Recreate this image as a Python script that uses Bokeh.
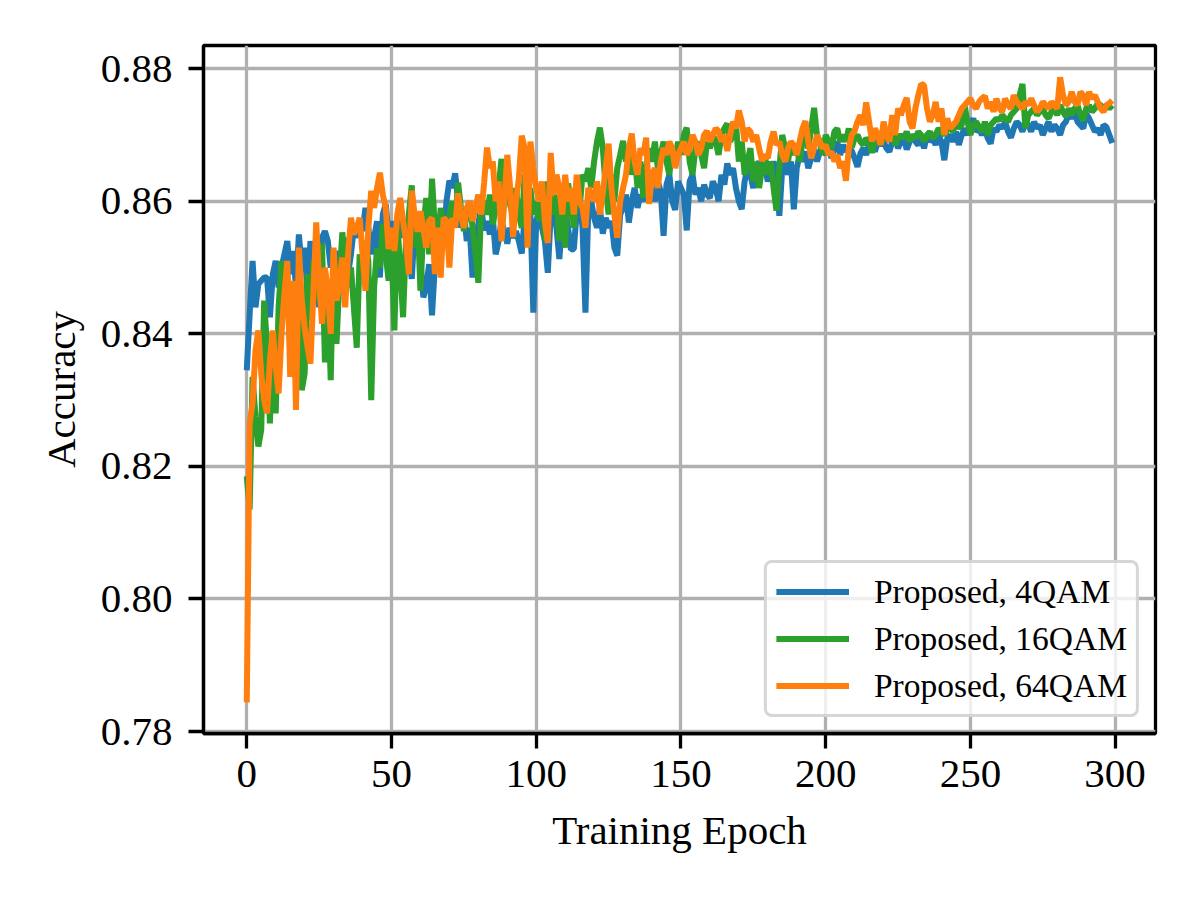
from bokeh.plotting import figure
from bokeh.models import Range1d, FixedTicker, PrintfTickFormatter, Legend
from bokeh.embed import file_html
from bokeh.resources import INLINE

epochs = list(range(300))

acc_4qam = [
    0.8345, 0.8430, 0.8510, 0.8440, 0.8475, 0.8480, 0.8485, 0.8485, 0.8425, 0.8490,
    0.8510, 0.8470, 0.8500, 0.8520, 0.8540, 0.8490, 0.8525, 0.8470, 0.8550, 0.8500,
    0.8530, 0.8455, 0.8540, 0.8480, 0.8500, 0.8440, 0.8545, 0.8555, 0.8540, 0.8500,
    0.8515, 0.8490, 0.8525, 0.8505, 0.8545, 0.8490, 0.8520, 0.8560, 0.8545, 0.8570,
    0.8555, 0.8590, 0.8560, 0.8520, 0.8545, 0.8570, 0.8485, 0.8580, 0.8596, 0.8550,
    0.8570, 0.8530, 0.8555, 0.8590, 0.8545, 0.8560, 0.8520, 0.8483, 0.8560, 0.8550,
    0.8510, 0.8455, 0.8470, 0.8505, 0.8428, 0.8505, 0.8560, 0.8575, 0.8540, 0.8600,
    0.8631, 0.8620, 0.8642, 0.8600, 0.8560, 0.8585, 0.8540, 0.8560, 0.8485, 0.8530,
    0.8566, 0.8590, 0.8556, 0.8570, 0.8550, 0.8575, 0.8520, 0.8540, 0.8570, 0.8555,
    0.8536, 0.8560, 0.8545, 0.8555, 0.8540, 0.8521, 0.8575, 0.8565, 0.8580, 0.8432,
    0.8570, 0.8585, 0.8560, 0.8540, 0.8492, 0.8580, 0.8590, 0.8560, 0.8513, 0.8575,
    0.8590, 0.8560, 0.8527, 0.8528, 0.8585, 0.8600, 0.8560, 0.8432, 0.8590, 0.8600,
    0.8575, 0.8560, 0.8590, 0.8551, 0.8575, 0.8560, 0.8570, 0.8530, 0.8518, 0.8580,
    0.8590, 0.8610, 0.8568, 0.8600, 0.8620, 0.8590, 0.8610, 0.8600, 0.8625, 0.8605,
    0.8620, 0.8600, 0.8630, 0.8615, 0.8548, 0.8625, 0.8640, 0.8600, 0.8587, 0.8630,
    0.8620, 0.8610, 0.8556, 0.8630, 0.8640, 0.8610, 0.8620, 0.8600, 0.8625, 0.8610,
    0.8605, 0.8630, 0.8620, 0.8600, 0.8640, 0.8625, 0.8657, 0.8640, 0.8650, 0.8620,
    0.8600, 0.8588, 0.8630, 0.8650, 0.8640, 0.8620, 0.8650, 0.8660, 0.8640, 0.8655,
    0.8630, 0.8645, 0.8660, 0.8640, 0.8578, 0.8650, 0.8670, 0.8640, 0.8660, 0.8588,
    0.8650, 0.8670, 0.8660, 0.8675, 0.8650, 0.8665, 0.8680, 0.8660, 0.8675, 0.8680,
    0.8670, 0.8685, 0.8665, 0.8680, 0.8690, 0.8670, 0.8685, 0.8675, 0.8680, 0.8676,
    0.8665, 0.8652, 0.8672, 0.8680, 0.8670, 0.8685, 0.8690, 0.8675, 0.8690, 0.8685,
    0.8690, 0.8680, 0.8675, 0.8690, 0.8695, 0.8680, 0.8690, 0.8695, 0.8678, 0.8690,
    0.8700, 0.8690, 0.8685, 0.8695, 0.8680, 0.8700, 0.8690, 0.8695, 0.8685, 0.8700,
    0.8690, 0.8662, 0.8695, 0.8700, 0.8690, 0.8705, 0.8685, 0.8700, 0.8710, 0.8700,
    0.8715, 0.8725, 0.8705, 0.8710, 0.8700, 0.8710, 0.8695, 0.8687, 0.8710, 0.8705,
    0.8715, 0.8710, 0.8720, 0.8705, 0.8696, 0.8710, 0.8720, 0.8715, 0.8705, 0.8720,
    0.8715, 0.8705, 0.8720, 0.8710, 0.8715, 0.8700, 0.8710, 0.8720, 0.8705, 0.8715,
    0.8710, 0.8700, 0.8715, 0.8720, 0.8732, 0.8725, 0.8735, 0.8720, 0.8715, 0.8710,
    0.8732, 0.8725, 0.8715, 0.8705, 0.8710, 0.8700, 0.8715, 0.8712, 0.8700, 0.8688,
]

acc_16qam = [
    0.8185, 0.8135, 0.8335, 0.8275, 0.8230, 0.8255, 0.8450, 0.8380, 0.8265, 0.8400,
    0.8280, 0.8440, 0.8510, 0.8445, 0.8490, 0.8380, 0.8470, 0.8360, 0.8450, 0.8315,
    0.8340, 0.8490, 0.8420, 0.8510, 0.8450, 0.8480, 0.8536, 0.8357, 0.8470, 0.8330,
    0.8525, 0.8385, 0.8480, 0.8553, 0.8510, 0.8470, 0.8500, 0.8440, 0.8379, 0.8520,
    0.8490, 0.8540, 0.8510, 0.8300, 0.8470, 0.8529, 0.8500, 0.8566, 0.8520, 0.8480,
    0.8530, 0.8405, 0.8570, 0.8500, 0.8425, 0.8540, 0.8580, 0.8624, 0.8530, 0.8580,
    0.8465, 0.8560, 0.8605, 0.8520, 0.8634, 0.8560, 0.8530, 0.8590, 0.8560, 0.8545,
    0.8580, 0.8600, 0.8560, 0.8628, 0.8590, 0.8555, 0.8580, 0.8600, 0.8560, 0.8520,
    0.8477, 0.8590, 0.8600, 0.8580, 0.8610, 0.8565, 0.8590, 0.8620, 0.8664, 0.8590,
    0.8656, 0.8600, 0.8570, 0.8620, 0.8580, 0.8560, 0.8640, 0.8600, 0.8620, 0.8580,
    0.8600, 0.8570, 0.8620, 0.8541, 0.8630, 0.8600, 0.8580, 0.8610, 0.8540, 0.8590,
    0.8530, 0.8627, 0.8600, 0.8560, 0.8620, 0.8590, 0.8640, 0.8630, 0.8650, 0.8620,
    0.8660, 0.8690, 0.8711, 0.8680, 0.8620, 0.8580, 0.8640, 0.8600, 0.8650, 0.8670,
    0.8691, 0.8660, 0.8680, 0.8640, 0.8670, 0.8620, 0.8660, 0.8605, 0.8650, 0.8680,
    0.8660, 0.8690, 0.8650, 0.8670, 0.8690, 0.8660, 0.8640, 0.8680, 0.8660, 0.8690,
    0.8670, 0.8700, 0.8711, 0.8660, 0.8640, 0.8680, 0.8690, 0.8670, 0.8650, 0.8690,
    0.8680, 0.8700, 0.8690, 0.8670, 0.8700, 0.8710, 0.8717, 0.8690, 0.8700, 0.8717,
    0.8660, 0.8690, 0.8640, 0.8660, 0.8680, 0.8630, 0.8660, 0.8620, 0.8650, 0.8670,
    0.8640, 0.8660, 0.8620, 0.8586, 0.8650, 0.8700, 0.8680, 0.8660, 0.8690, 0.8670,
    0.8680, 0.8660, 0.8690, 0.8700, 0.8680, 0.8710, 0.8741, 0.8700, 0.8690, 0.8670,
    0.8700, 0.8690, 0.8680, 0.8705, 0.8710, 0.8690, 0.8700, 0.8690, 0.8710, 0.8681,
    0.8695, 0.8700, 0.8690, 0.8685, 0.8695, 0.8690, 0.8673, 0.8690, 0.8700, 0.8695,
    0.8705, 0.8690, 0.8700, 0.8710, 0.8685, 0.8695, 0.8700, 0.8695, 0.8705, 0.8690,
    0.8700, 0.8695, 0.8705, 0.8700, 0.8690, 0.8700, 0.8705, 0.8695, 0.8700, 0.8710,
    0.8705, 0.8700, 0.8709, 0.8710, 0.8705, 0.8720, 0.8710, 0.8715, 0.8744, 0.8720,
    0.8700, 0.8715, 0.8720, 0.8712, 0.8705, 0.8720, 0.8700, 0.8715, 0.8720, 0.8725,
    0.8722, 0.8730, 0.8725, 0.8720, 0.8730, 0.8735, 0.8740, 0.8760, 0.8777, 0.8710,
    0.8730, 0.8735, 0.8740, 0.8730, 0.8735, 0.8740, 0.8730, 0.8725, 0.8735, 0.8740,
    0.8730, 0.8745, 0.8735, 0.8728, 0.8740, 0.8730, 0.8740, 0.8745, 0.8730, 0.8722,
    0.8740, 0.8745, 0.8735, 0.8740, 0.8748, 0.8745, 0.8740, 0.8745, 0.8740, 0.8745,
]

acc_64qam = [
    0.7844, 0.8265, 0.8295, 0.8375, 0.8405, 0.8340, 0.8300, 0.8280, 0.8360, 0.8405,
    0.8350, 0.8310, 0.8400, 0.8460, 0.8510, 0.8335, 0.8480, 0.8285, 0.8530, 0.8450,
    0.8410, 0.8380, 0.8355, 0.8460, 0.8568, 0.8480, 0.8415, 0.8500, 0.8465, 0.8400,
    0.8530, 0.8450, 0.8475, 0.8515, 0.8440, 0.8520, 0.8575, 0.8550, 0.8560, 0.8575,
    0.8520, 0.8465, 0.8560, 0.8616, 0.8590, 0.8620, 0.8643, 0.8610, 0.8590, 0.8528,
    0.8560, 0.8525, 0.8580, 0.8605, 0.8570, 0.8540, 0.8490, 0.8616, 0.8580, 0.8554,
    0.8585, 0.8560, 0.8530, 0.8570, 0.8575, 0.8490, 0.8560, 0.8485, 0.8575, 0.8570,
    0.8500, 0.8575, 0.8560, 0.8612, 0.8580, 0.8560, 0.8590, 0.8600, 0.8570, 0.8590,
    0.8610, 0.8580, 0.8628, 0.8681, 0.8650, 0.8660, 0.8600, 0.8630, 0.8540, 0.8600,
    0.8670, 0.8620, 0.8546, 0.8600, 0.8634, 0.8699, 0.8680, 0.8530, 0.8690, 0.8650,
    0.8620, 0.8600, 0.8630, 0.8570, 0.8537, 0.8673, 0.8610, 0.8640, 0.8620, 0.8580,
    0.8640, 0.8600, 0.8620, 0.8580, 0.8640, 0.8600, 0.8590, 0.8560, 0.8620, 0.8612,
    0.8600, 0.8630, 0.8580, 0.8612, 0.8650, 0.8687, 0.8620, 0.8580, 0.8545, 0.8600,
    0.8620, 0.8640, 0.8680, 0.8702, 0.8660, 0.8640, 0.8680, 0.8670, 0.8696, 0.8596,
    0.8640, 0.8650, 0.8620, 0.8660, 0.8680, 0.8670, 0.8690, 0.8680, 0.8650, 0.8670,
    0.8680, 0.8690, 0.8670, 0.8680, 0.8700, 0.8690, 0.8670, 0.8680, 0.8700, 0.8706,
    0.8690, 0.8700, 0.8710, 0.8706, 0.8690, 0.8700, 0.8676, 0.8700, 0.8720, 0.8710,
    0.8737, 0.8720, 0.8690, 0.8710, 0.8705, 0.8690, 0.8700, 0.8680, 0.8661, 0.8670,
    0.8665, 0.8690, 0.8705, 0.8685, 0.8690, 0.8670, 0.8660, 0.8680, 0.8690, 0.8685,
    0.8670, 0.8690, 0.8710, 0.8721, 0.8690, 0.8665, 0.8680, 0.8700, 0.8690, 0.8680,
    0.8685, 0.8670, 0.8675, 0.8660, 0.8670, 0.8650, 0.8660, 0.8631, 0.8680, 0.8700,
    0.8706, 0.8720, 0.8730, 0.8715, 0.8749, 0.8720, 0.8690, 0.8710, 0.8700, 0.8685,
    0.8720, 0.8700, 0.8690, 0.8730, 0.8700, 0.8740, 0.8730, 0.8745, 0.8756, 0.8720,
    0.8710, 0.8740, 0.8760, 0.8777, 0.8775, 0.8740, 0.8720, 0.8730, 0.8750, 0.8720,
    0.8740, 0.8700, 0.8725, 0.8710, 0.8715, 0.8720, 0.8730, 0.8740, 0.8745, 0.8750,
    0.8755, 0.8745, 0.8740, 0.8750, 0.8755, 0.8759, 0.8740, 0.8750, 0.8735, 0.8755,
    0.8740, 0.8735, 0.8755, 0.8745, 0.8740, 0.8760, 0.8750, 0.8745, 0.8740, 0.8750,
    0.8745, 0.8755, 0.8745, 0.8735, 0.8740, 0.8750, 0.8745, 0.8740, 0.8750, 0.8745,
    0.8740, 0.8787, 0.8760, 0.8745, 0.8750, 0.8765, 0.8750, 0.8745, 0.8765, 0.8760,
    0.8745, 0.8765, 0.8755, 0.8760, 0.8750, 0.8740, 0.8735, 0.8745, 0.8748, 0.8752,
]

series_labels = ["Proposed, 4QAM", "Proposed, 16QAM", "Proposed, 64QAM"]
series_colors = ["#1f77b4", "#2ca02c", "#ff7f0e"]
x_ticks = [0, 50, 100, 150, 200, 250, 300]
y_ticks = [0.78, 0.80, 0.82, 0.84, 0.86, 0.88]

FONT = "Liberation Serif"

p = figure(
    frame_width=952, frame_height=688,
    min_border_left=203, min_border_right=29, min_border_top=45, min_border_bottom=151,
    x_range=Range1d(-14.95, 313.95), y_range=Range1d(0.7797, 0.8835),
    output_backend="svg", toolbar_location=None,
    background_fill_color="white", border_fill_color="white",
)

for ys, lab, col in zip([acc_4qam, acc_16qam, acc_64qam], series_labels, series_colors):
    p.line(epochs, ys, line_color=col, line_width=6, legend_label=lab)

p.outline_line_color = "black"
p.outline_line_width = 3.3

for ax in (p.xaxis[0], p.yaxis[0]):
    ax.axis_line_color = "black"
    ax.axis_line_width = 3.3
    ax.major_tick_out = 15
    ax.major_tick_in = 0
    ax.major_tick_line_width = 3.3
    ax.major_tick_line_color = "black"
    ax.minor_tick_line_color = None
    ax.major_label_text_font = FONT
    ax.major_label_text_font_size = "41px"
    ax.major_label_text_color = "black"
    ax.axis_label_text_font = FONT
    ax.axis_label_text_font_size = "41px"
    ax.axis_label_text_font_style = "normal"
    ax.axis_label_text_color = "black"

p.xaxis.ticker = FixedTicker(ticks=x_ticks)
p.yaxis.ticker = FixedTicker(ticks=y_ticks)
p.yaxis.formatter = PrintfTickFormatter(format="%.2f")
p.xaxis.axis_label = "Training Epoch"
p.yaxis.axis_label = "Accuracy"
p.xaxis.major_label_standoff = 12
p.yaxis.major_label_standoff = 16
p.xaxis.axis_label_standoff = 17
p.yaxis.axis_label_standoff = 14

p.xgrid.ticker = FixedTicker(ticks=x_ticks)
p.ygrid.ticker = FixedTicker(ticks=y_ticks)
for g in (p.xgrid[0], p.ygrid[0]):
    g.grid_line_color = "#b0b0b0"
    g.grid_line_width = 3.3

lg = p.legend[0]
lg.location = "bottom_right"
lg.margin = 16
lg.padding = 9
lg.spacing = 8
lg.glyph_width = 73
lg.glyph_height = 39
lg.label_height = 39
lg.label_standoff = 25
lg.label_text_font = FONT
lg.label_text_font_size = "33.5px"
lg.label_text_color = "black"
lg.background_fill_color = "white"
lg.background_fill_alpha = 0.8
lg.border_line_color = "#cccccc"
lg.border_line_width = 3
lg.border_line_alpha = 0.8
try:
    if "border_radius" in Legend.properties():
        lg.border_radius = 8
except Exception:
    pass

open("out.html", "w").write(file_html(p, INLINE))
